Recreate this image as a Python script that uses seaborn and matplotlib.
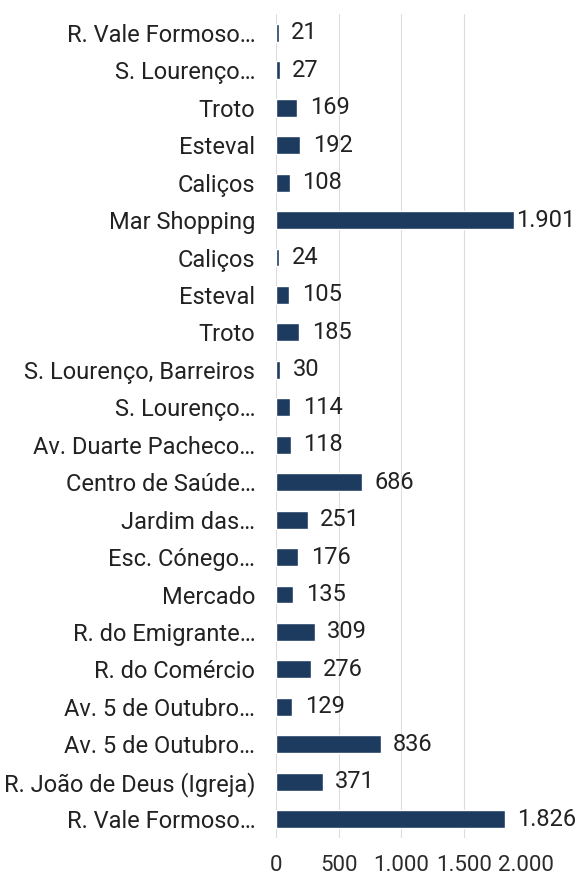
import seaborn as sns
import matplotlib.pyplot as plt
import pandas as pd

# paragens (top to bottom) and values
labels = ["R. Vale Formoso…", "S. Lourenço…", "Troto", "Esteval", "Caliços",
          "Mar Shopping", "Caliços", "Esteval", "Troto", "S. Lourenço, Barreiros",
          "S. Lourenço…", "Av. Duarte Pacheco…", "Centro de Saúde…", "Jardim das…",
          "Esc. Cónego…", "Mercado", "R. do Emigrante…", "R. do Comércio",
          "Av. 5 de Outubro…", "Av. 5 de Outubro…", "R. João de Deus (Igreja)",
          "R. Vale Formoso…"]
values = [21, 27, 169, 192, 108, 1901, 24, 105, 185, 30, 114, 118, 686, 251,
          176, 135, 309, 276, 129, 836, 371, 1826]
xticks = [0, 500, 1000, 1500, 2000]

def fmt(v):
    return f"{v:,}".replace(",", ".")

df = pd.DataFrame({"key": [str(i) for i in range(len(labels))], "valor": values})

sns.set_style("white")
plt.rcParams['font.family'] = ['Roboto', 'DejaVu Sans']

fig = plt.figure(figsize=(5.79, 8.82), dpi=100)
ax = fig.add_axes([0.477, 0.05, 0.432, 0.934])
sns.barplot(data=df, x="valor", y="key", orient="h", color="#1d3a5f",
            saturation=1, width=0.48, ax=ax)
ax.set_xlim(0, 2000)
ax.set_xticks(xticks)
ax.set_xticklabels([fmt(t) for t in xticks], fontsize=16, color="#2b2b2b")
ax.set_yticks(range(len(labels)))
ax.set_yticklabels(labels, fontsize=17, color="#222222")
ax.tick_params(axis="x", length=0, pad=12)
ax.tick_params(axis="y", length=0, pad=15)
ax.set_xlabel("")
ax.set_ylabel("")
ax.grid(axis="x", color="#dcdcdc", linewidth=0.8)
ax.set_axisbelow(True)
for s in ax.spines.values():
    s.set_visible(False)
for i, v in enumerate(values):
    off = 100 if v < 1850 else 20
    ax.text(v + off, i, fmt(v), va="center", ha="left", fontsize=17,
            color="#222222", clip_on=False)

fig.savefig("out.png", dpi=100)
